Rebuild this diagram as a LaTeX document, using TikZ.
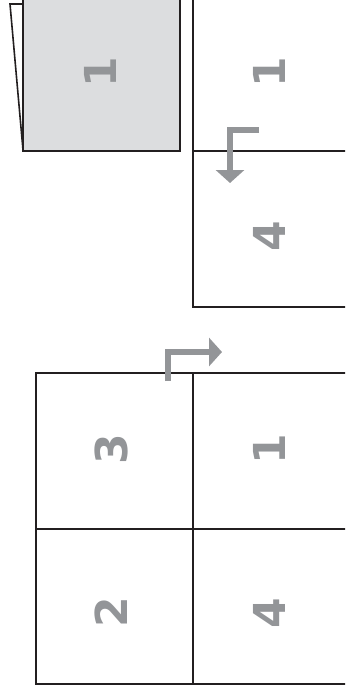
\documentclass[tikz,border=0pt]{standalone}
\usepackage{fontspec}
\setsansfont{DejaVu Sans}
\usetikzlibrary{arrows.meta}
\definecolor{inkblack}{RGB}{35,31,32}
\definecolor{sheetgray}{RGB}{220,221,223}
\definecolor{markgray}{RGB}{147,149,152}

\begin{document}
\begin{tikzpicture}[x=0.5pt,y=-0.5pt,
  edge/.style={draw=inkblack,line width=1.2pt},
  pagenum/.style={text=markgray,inner sep=0pt,rotate=90,
    font=\sffamily\bfseries\fontsize{22}{22}\selectfont},
  foldarrow/.style={draw=markgray,line width=3pt,
    -{Triangle[width=14pt,length=6.5pt]}}]
  \useasboundingbox (0,0) rectangle (345,697);
  \clip (0,0) rectangle (345,697);
  % folded sheet
  \draw[draw=inkblack,line width=0.8pt] (23,4) -- (10,4) -- (23,150);
  \draw[edge,fill=sheetgray,line width=1.4pt] (23,-5) rectangle (180,151);
  \node[pagenum] (sheetone) at (100,72) {1};
  % strip of two pages
  \draw[edge] (193,-5) -- (193,307) -- (350,307);
  \draw[edge] (193,151) -- (350,151);
  \node[pagenum] (stripone) at (269,72) {1};
  \node[pagenum] (stripfour) at (269,236) {4};
  % four pages
  \draw[edge] (350,373) -- (36,373) -- (36,684) -- (350,684);
  \draw[edge] (193,373) -- (193,684);
  \draw[edge] (36,529) -- (350,529);
  \node[pagenum] (gridthree) at (111,449) {3};
  \node[pagenum] (gridone) at (269,449) {1};
  \node[pagenum] (gridtwo) at (111,612) {2};
  \node[pagenum] (gridfour) at (269,613) {4};
  % fold directions
  \draw[foldarrow] (259,130) -- (230,130) -- (230,183);
  \draw[foldarrow] (168,381) -- (168,352) -- (222,352);
\end{tikzpicture}
\end{document}
